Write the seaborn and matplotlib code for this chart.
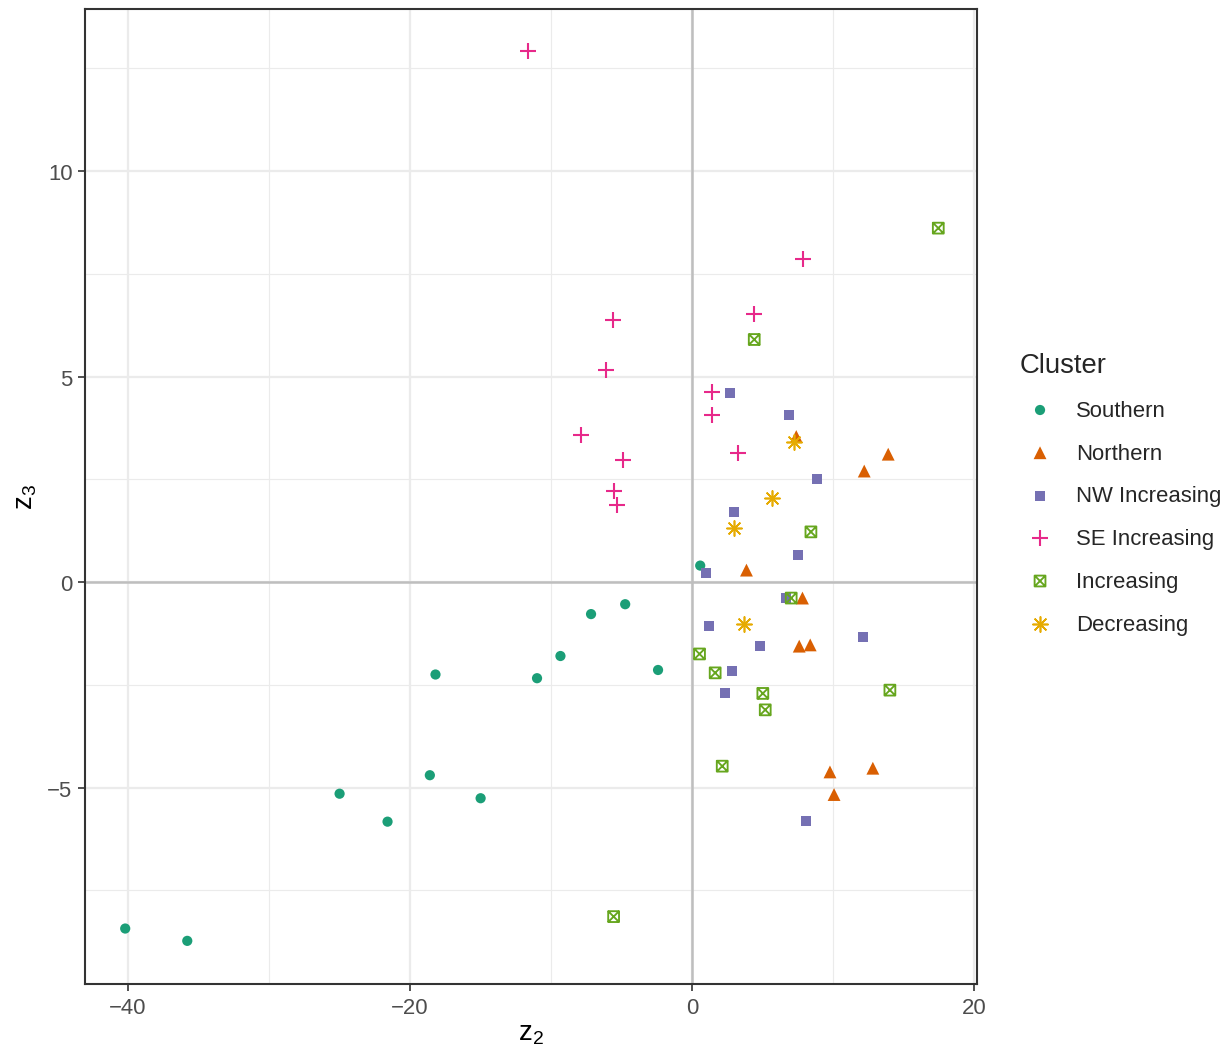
import numpy as np
import pandas as pd
import seaborn as sns
import matplotlib.pyplot as plt
from matplotlib.path import Path

# --- data ---
clusters = ["Southern", "Northern", "NW Increasing", "SE Increasing", "Increasing", "Decreasing"]

southern_z2 = [-40.2, -35.8, -25.0, -21.6, -18.6, -15.0, -18.2, -11.0, -9.34, -2.42, -7.17, -4.75, 0.57]
southern_z3 = [-8.43, -8.73, -5.15, -5.83, -4.70, -5.26, -2.25, -2.34, -1.80, -2.14, -0.78, -0.54, 0.40]

northern_z2 = [7.38, 12.2, 13.9, 3.85, 7.82, 7.59, 8.37, 9.77, 12.81, 10.06]
northern_z3 = [3.54, 2.70, 3.11, 0.29, -0.39, -1.56, -1.53, -4.62, -4.53, -5.17]

nw_z2 = [2.70, 6.86, 8.84, 2.98, 7.52, 0.99, 6.67, 1.21, 12.13, 4.82, 2.81, 2.34, 8.04]
nw_z3 = [4.60, 4.06, 2.51, 1.71, 0.66, 0.23, -0.39, -1.06, -1.34, -1.56, -2.17, -2.70, -5.81]

se_z2 = [-11.63, 7.85, -5.63, 4.40, -6.10, 1.42, 1.42, -7.90, 3.22, -4.87, -5.53, -5.30]
se_z3 = [12.92, 7.86, 6.38, 6.52, 5.17, 4.63, 4.06, 3.58, 3.15, 2.97, 2.21, 1.87]

inc_z2 = [17.45, 4.40, 8.42, 7.02, 0.52, 1.63, 5.01, 5.18, 14.02, 2.13, -5.57]
inc_z3 = [8.61, 5.90, 1.22, -0.39, -1.75, -2.21, -2.71, -3.11, -2.63, -4.48, -8.14]

dec_z2 = [7.19, 5.67, 2.98, 3.66]
dec_z3 = [3.41, 2.04, 1.32, -1.01]

all_z2 = [southern_z2, northern_z2, nw_z2, se_z2, inc_z2, dec_z2]
all_z3 = [southern_z3, northern_z3, nw_z3, se_z3, inc_z3, dec_z3]
df = pd.concat(
    [pd.DataFrame({"z2": a, "z3": b, "Cluster": c}) for a, b, c in zip(all_z2, all_z3, clusters)],
    ignore_index=True,
)

# --- styling ---
sns.set_style("white")
plt.rcParams["font.family"] = ["Liberation Sans", "DejaVu Sans"]
plt.rcParams["mathtext.fontset"] = "custom"
plt.rcParams["mathtext.rm"] = "Liberation Sans"
plt.rcParams["mathtext.it"] = "Liberation Sans"

colors = ["#1B9E77", "#D95F02", "#7570B3", "#E7298A", "#66A61E", "#E6AB02"]

# square with a cross inside (ggplot shape 7)
box_x = Path(
    [(-1, -1), (1, -1), (1, 1), (-1, 1), (-1, -1), (-1, -1), (1, 1), (-1, 1), (1, -1)],
    [Path.MOVETO, Path.LINETO, Path.LINETO, Path.LINETO, Path.CLOSEPOLY,
     Path.MOVETO, Path.LINETO, Path.MOVETO, Path.LINETO],
)

styles = {
    "Southern": dict(marker="o", s=24, linewidth=0),
    "Northern": dict(marker="^", s=38, linewidth=0),
    "NW Increasing": dict(marker="s", s=23, linewidth=0),
    "SE Increasing": dict(marker="+", s=55, linewidth=1.0),
    "Increasing": dict(marker=box_x, s=27, linewidth=0.9, facecolor="none"),
    "Decreasing": dict(marker=(8, 2, 0), s=52, linewidth=0.8),
}

fig = plt.figure(figsize=(8.1667, 6.9733))
ax = fig.add_axes([0.0694, 0.0583, 0.7282, 0.9321])

ax.axhline(0, color="#BEBEBE", linewidth=1.2, zorder=1)
ax.axvline(0, color="#BEBEBE", linewidth=1.2, zorder=1)

for name, col in zip(clusters, colors):
    sub = df[df["Cluster"] == name]
    st = dict(styles[name])
    if st["marker"] in ("o", "^", "s"):
        st["edgecolor"] = "none"
    elif st["marker"] is box_x:
        st["edgecolor"] = col
    sns.scatterplot(data=sub, x="z2", y="z3", ax=ax, color=col, label=name, zorder=3, **st)

ax.set_xlim(-43.05, 20.2)
ax.set_ylim(-9.78, 13.94)
ax.set_xticks([-40, -20, 0, 20])
ax.set_xticks([-30, -10, 10], minor=True)
ax.set_yticks([-5, 0, 5, 10])
ax.set_yticks([-7.5, -2.5, 2.5, 7.5, 12.5], minor=True)

ax.grid(True, which="major", color="#EBEBEB", linewidth=1.1, zorder=0)
ax.grid(True, which="minor", color="#EBEBEB", linewidth=0.55, zorder=0)
ax.set_axisbelow(True)

for sp in ax.spines.values():
    sp.set_color("#333333")
    sp.set_linewidth(1.0)

ax.tick_params(which="major", direction="out", length=3.5, width=0.8, color="#333333",
               labelsize=10.6, labelcolor="#4D4D4D", pad=2.5, bottom=True, left=True)
ax.tick_params(which="minor", length=0)

ax.set_xlabel(r"z$_2$", fontsize=13.2, color="black", labelpad=1)
ax.set_ylabel(r"z$_3$", fontsize=13.2, color="black", labelpad=4)

leg = ax.legend(
    title="Cluster", frameon=False, loc="upper left",
    bbox_to_anchor=(1009 / 1225, 1 - 342 / 1046), bbox_transform=fig.transFigure,
    fontsize=10.6, title_fontsize=13.2, handlelength=1.81, handletextpad=0.72,
    labelspacing=0.985, borderpad=0, alignment="left",
)

fig.savefig("out.png", dpi=150)
plt.close(fig)
